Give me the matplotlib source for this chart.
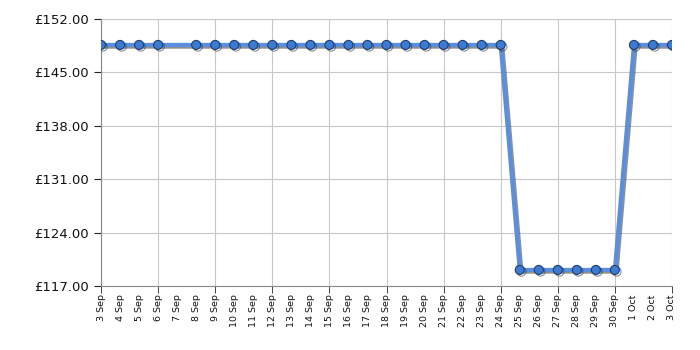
import datetime as dt
import matplotlib
matplotlib.use("Agg")
import matplotlib.pyplot as plt
import matplotlib.patheffects as pe

# price history (7 Sep has no reading)
days = [3, 4, 5, 6, 8, 9, 10, 11, 12, 13, 14, 15, 16, 17, 18, 19, 20, 21, 22,
        23, 24, 25, 26, 27, 28, 29, 30, 31, 32, 33]
prices = [148.6] * 21 + [119.1] * 6 + [148.6] * 3

start = dt.date(2024, 9, 1)
dates = [start + dt.timedelta(days=d - 1) for d in days]

label_days = [start + dt.timedelta(days=d) for d in range(2, 33)]
grid_days = label_days[::3]
y_ticks = [117, 124, 131, 138, 145, 152]

fig = plt.figure(figsize=(7, 3.5), dpi=100)
ax = fig.add_axes([0.1443, 0.183, 0.8157, 0.7627])

ax.plot(dates, prices, color="#5a8fe0", lw=3, marker="o", ms=6.5,
        mfc="#3d7ad2", mec="#1e3f70", mew=0.8, zorder=3,
        path_effects=[pe.SimpleLineShadow(offset=(1.2, -1.2), shadow_color="#333333", alpha=0.55),
                      pe.Normal()])

ax.set_ylim(117, 152)
ax.set_xlim(label_days[0], label_days[-1])
ax.set_yticks(y_ticks)
ax.set_yticklabels(["£%.2f" % v for v in y_ticks], fontsize=9.5, color="#111111")

ax.xaxis.remove_overlapping_locs = False
ax.set_xticks(label_days)
ax.set_xticklabels([f"{d.day} {d.strftime('%b')}" for d in label_days],
                   rotation=90, fontsize=6.8, color="#111111")
ax.set_xticks(grid_days, minor=True)
ax.tick_params(axis="x", which="major", length=0, pad=6)
ax.tick_params(axis="x", which="minor", length=5, color="#222222")
ax.tick_params(axis="y", length=5, color="#222222")

ax.grid(True, which="minor", axis="x", color="#c8c8c8", lw=0.8)
ax.grid(True, which="major", axis="y", color="#c8c8c8", lw=0.8)
ax.set_axisbelow(True)
for s in ["top", "right"]:
    ax.spines[s].set_visible(False)
for s in ["left", "bottom"]:
    ax.spines[s].set_color("#888888")

fig.savefig("out.png", dpi=100)
